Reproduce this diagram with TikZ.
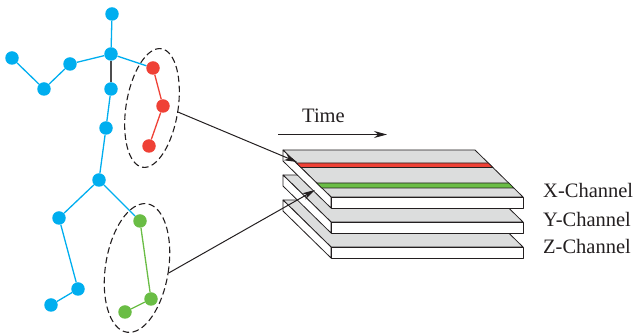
\documentclass[tikz,border=0pt]{standalone}
\usepackage{fontspec}
\setmainfont{Liberation Serif}
\usetikzlibrary{arrows.meta,shapes.geometric,backgrounds}

\definecolor{jointblue}{RGB}{0,174,239}
\definecolor{jointred}{RGB}{239,65,54}
\definecolor{jointgreen}{RGB}{106,189,69}
\definecolor{facegray}{RGB}{220,221,221}
\definecolor{ink}{RGB}{35,31,32}
\definecolor{spinegray}{RGB}{77,77,79}

\begin{document}
\begin{tikzpicture}[x=1pt,y=-1pt,
  joint/.style={circle,inner sep=0pt,minimum size=13.5pt},
  bj/.style={joint,fill=jointblue},
  rj/.style={joint,fill=jointred},
  gj/.style={joint,fill=jointgreen},
  bone/.style={line width=1.3pt,draw=jointblue},
  region/.style={draw=ink,ellipse,dash pattern=on 6.5pt off 3.5pt,line width=1.1pt,inner sep=0pt},
  link/.style={draw=ink,line width=1pt,-{Stealth[length=13pt,width=7pt]}},
  plate/.style={draw=ink,line width=0.8pt,line join=round},
  band/.style={draw=ink,line width=0.6pt},
  lbl/.style={font=\fontsize{20.5}{24}\selectfont,text=ink,inner sep=0pt,anchor=base west}
]
\useasboundingbox (0,0) rectangle (638,336);

% ---- skeleton joints ----
\node[bj] (head) at (112,14) {};
\node[bj] (neck) at (111,54) {};
\node[bj] (lsh) at (70,64) {};
\node[bj] (lelb) at (44,89) {};
\node[bj] (lhand) at (12,58) {};
\node[bj] (sp1) at (111,89) {};
\node[bj] (sp2) at (106,128) {};
\node[bj] (hip) at (99,180) {};
\node[bj] (lhip) at (59,218) {};
\node[bj] (lknee) at (78,289) {};
\node[bj] (lfoot) at (51,305) {};
\node[rj] (r1) at (153,68) {};
\node[rj] (r2) at (163,106) {};
\node[rj] (r3) at (149,146) {};
\node[gj] (g1) at (140,221) {};
\node[gj] (g2) at (151,299) {};
\node[gj] (g3) at (125,312) {};

% ---- bones ----
\begin{scope}[on background layer]
  \draw[bone] (head) -- (neck) -- (lsh) -- (lelb) -- (lhand);
  \draw[bone] (neck) -- (r1);
  \draw[line width=1.3pt,spinegray] (neck) -- (sp1);
  \draw[bone] (sp1) -- (sp2) -- (hip) -- (lhip) -- (lknee) -- (lfoot);
  \draw[bone] (hip) -- (g1);
  \draw[line width=1.3pt,jointred] (r1) -- (r2) -- (r3);
  \draw[line width=1.3pt,jointgreen] (g1) -- (g2) -- (g3);
\end{scope}

% ---- dashed groupings ----
\node[region,minimum width=52pt,minimum height=120pt,rotate=-9] (armgroup) at (152,108) {};
\node[region,minimum width=63pt,minimum height=130pt,rotate=-9] (leggroup) at (137,268) {};

% ---- channel plates (bottom to top) ----
\foreach \b in {200,175,150}{
  \filldraw[plate,fill=facegray] (283,\b) -- ++(192,0) -- ++(48,47) -- ++(-192,0) -- cycle;
  \filldraw[plate,fill=white] (283,\b) -- ++(48,47) -- ++(0,11) -- ++(-48,-47) -- cycle;
  \filldraw[plate,fill=white] (331,\b+47) -- ++(192,0) -- ++(0,11) -- ++(-192,0) -- cycle;
}
\filldraw[band,fill=jointred] (296.3,163) -- (488.3,163) -- (492.9,167.5) -- (300.9,167.5) -- cycle;
\filldraw[band,fill=jointgreen] (316.7,183) -- (508.7,183) -- (513.8,188) -- (321.8,188) -- cycle;

% ---- links from joint groups to channel rows ----
\coordinate (redrow) at (297,162);
\coordinate (greenrow) at (315,190);
\draw[link] (armgroup.east) -- (redrow);
\draw[link] (leggroup.east) -- (greenrow);

% ---- time axis ----
\coordinate (tstart) at (278,134.5);
\coordinate (tend) at (387,134.5);
\draw[link] (tstart) -- (tend);
\node[lbl] (timelbl) at (302,123) {Time};

% ---- channel labels ----
\node[lbl] (xlbl) at (543,198) {X-Channel};
\node[lbl] (ylbl) at (543,226.5) {Y-Channel};
\node[lbl] (zlbl) at (543,254) {Z-Channel};
\end{tikzpicture}
\end{document}
